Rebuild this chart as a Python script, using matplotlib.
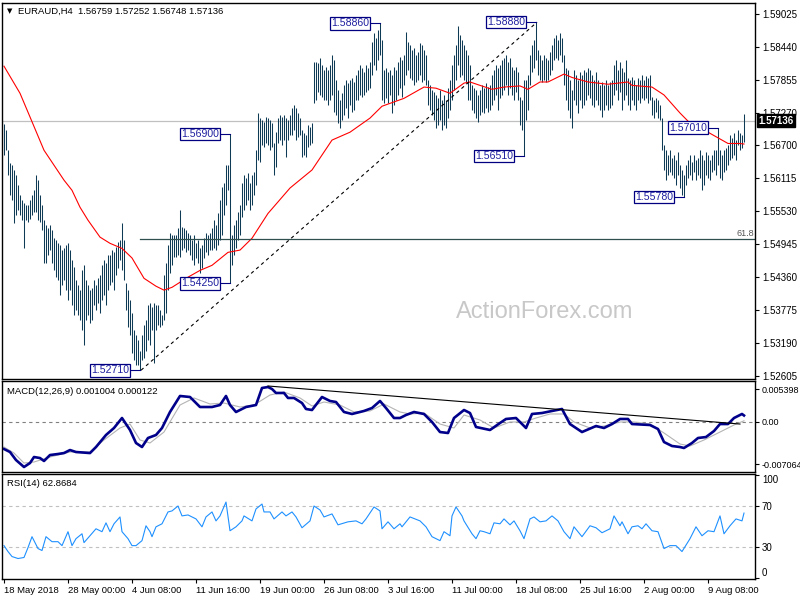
import numpy as np
import matplotlib.pyplot as plt
from matplotlib.transforms import blended_transform_factory

plt.rcParams['font.family'] = ['Liberation Sans', 'DejaVu Sans']

# H4 bars, high / low in pips above 1.5000 (one row = 10 bars)
high_pips = [
    707, 696, 661, 638, 634, 626, 617, 599, 581, 572,
    567, 564, 564, 572, 581, 590, 617, 608, 581, 564,
    537, 528, 523, 528, 519, 505, 502, 496, 493, 484,
    487, 493, 496, 484, 466, 454, 431, 422, 413, 448,
    457, 431, 422, 413, 416, 431, 422, 434, 439, 457,
    466, 462, 475, 475, 484, 480, 489, 498, 502, 532,
    502, 425, 413, 395, 372, 342, 333, 324, 306, 333,
    351, 360, 386, 391, 383, 391, 386, 386, 377, 369,
    439, 461, 493, 514, 510, 510, 510, 523, 555, 525,
    523, 519, 514, 510, 502, 510, 496, 502, 487, 493,
    505, 514, 510, 514, 523, 537, 528, 549, 572, 595,
    603, 634, 634, 690, 510, 528, 537, 551, 564, 603,
    617, 611, 620, 603, 617, 622, 661, 727, 718, 714,
    711, 720, 718, 714, 709, 673, 693, 718, 723, 720,
    723, 718, 714, 723, 736, 741, 736, 727, 718, 696,
    691, 688, 705, 702, 709, 817, 817, 815, 824, 812,
    803, 808, 803, 812, 829, 821, 785, 767, 750, 762,
    776, 785, 780, 785, 789, 782, 794, 803, 812, 806,
    799, 812, 806, 817, 853, 869, 860, 874, 886, 856,
    803, 806, 799, 803, 794, 808, 803, 817, 826, 821,
    829, 870, 853, 847, 838, 842, 829, 835, 851, 847,
    838, 829, 785, 776, 767, 764, 759, 753, 767, 750,
    759, 750, 771, 785, 812, 829, 847, 881, 865, 856,
    847, 838, 829, 812, 776, 771, 767, 759, 767, 776,
    771, 780, 773, 776, 794, 803, 812, 806, 812, 821,
    824, 829, 817, 824, 808, 803, 808, 799, 755, 750,
    785, 785, 794, 829, 847, 856, 888, 838, 829, 821,
    829, 824, 821, 835, 847, 860, 865, 856, 869, 860,
    829, 806, 803, 785, 767, 803, 794, 785, 799, 794,
    803, 799, 806, 803, 794, 785, 799, 785, 776, 782,
    776, 785, 776, 782, 785, 812, 821, 803, 817, 806,
    799, 821, 789, 785, 790, 785, 776, 789, 785, 794,
    785, 792, 789, 794, 755, 750, 753, 750, 741, 718,
    670, 661, 652, 661, 647, 652, 643, 657, 634, 626,
    617, 634, 643, 652, 640, 652, 643, 647, 661, 652,
    643, 657, 652, 643, 652, 661, 661, 701, 661, 652,
    661, 665, 670, 688, 683, 691, 679, 696, 691, 688, 725,
]
low_pips = [
    652, 661, 617, 581, 572, 532, 546, 555, 546, 537,
    487, 537, 533, 540, 546, 551, 551, 537, 533, 519,
    462, 462, 475, 484, 462, 448, 436, 431, 404, 422,
    431, 413, 395, 413, 386, 369, 377, 369, 360, 342,
    315, 360, 369, 354, 360, 386, 377, 390, 372, 395,
    404, 386, 413, 422, 427, 413, 439, 452, 466, 448,
    431, 377, 347, 333, 301, 289, 280, 280, 271, 289,
    293, 306, 324, 315, 342, 283, 342, 351, 347, 351,
    360, 372, 413, 443, 457, 471, 471, 475, 471, 484,
    487, 480, 484, 475, 466, 457, 470, 462, 443, 452,
    470, 480, 475, 484, 484, 487, 484, 493, 502, 510,
    546, 564, 590, 425, 457, 475, 487, 502, 510, 542,
    555, 564, 572, 555, 564, 581, 599, 643, 640, 670,
    666, 673, 670, 661, 666, 617, 631, 673, 679, 670,
    679, 649, 679, 688, 688, 696, 679, 684, 688, 649,
    652, 649, 666, 670, 673, 744, 750, 764, 759, 755,
    750, 750, 741, 750, 759, 728, 723, 709, 700, 714,
    723, 736, 718, 741, 728, 732, 750, 750, 759, 755,
    759, 764, 767, 771, 794, 812, 803, 821, 829, 750,
    744, 753, 744, 759, 727, 741, 750, 759, 771, 755,
    776, 794, 803, 789, 785, 776, 782, 785, 794, 782,
    785, 776, 741, 732, 723, 714, 700, 705, 714, 696,
    705, 700, 718, 732, 750, 767, 785, 812, 790, 794,
    785, 780, 750, 750, 732, 727, 718, 711, 723, 728,
    727, 736, 728, 732, 741, 750, 759, 732, 753, 759,
    767, 776, 759, 771, 759, 750, 764, 750, 705, 696,
    651, 714, 732, 776, 799, 806, 821, 794, 785, 782,
    785, 782, 785, 794, 803, 821, 824, 821, 829, 817,
    776, 750, 732, 718, 700, 750, 741, 727, 750, 736,
    741, 750, 759, 753, 741, 737, 750, 741, 732, 720,
    732, 741, 732, 736, 741, 759, 767, 750, 764, 732,
    750, 759, 741, 732, 750, 741, 732, 750, 744, 753,
    750, 753, 744, 750, 723, 718, 728, 718, 714, 661,
    626, 608, 617, 622, 617, 611, 599, 617, 594, 581,
    578, 599, 611, 617, 608, 622, 608, 617, 611, 590,
    599, 617, 611, 608, 622, 626, 617, 634, 611, 608,
    622, 626, 634, 643, 647, 652, 643, 670, 661, 665, 675,
]

# moving average (red), sampled
ma_bar = [0, 8, 13, 20, 30, 34, 38, 42, 48, 53, 59, 64, 70, 76, 80, 84, 92, 98, 104, 112,
          118, 124, 132, 143, 154, 164, 173, 183, 189, 200, 210, 216, 223, 230, 233, 238,
          244, 250, 258, 262, 268, 272, 280, 284, 292, 302, 312, 314, 324, 330, 338, 343,
          352, 362, 368, 370]
ma_pips = [810, 762, 720, 661, 608, 590, 560, 537, 507, 496, 487, 470, 434, 420, 413, 418,
           436, 448, 457, 480, 484, 505, 549, 594, 626, 679, 693, 718, 739, 753, 773, 771,
           762, 780, 782, 776, 769, 773, 775, 769, 782, 782, 796, 790, 782, 778, 782, 776,
           773, 759, 727, 709, 693, 673, 673, 672]

# MACD (x 1e-4)
macd_bar = [0, 3, 6, 10, 13, 15, 18, 20, 23, 27, 30, 33, 36, 43, 46, 51, 55, 59, 63, 66,
            69, 72, 76, 79, 83, 88, 93, 98, 104, 108, 111, 113, 116, 121, 126, 129, 132, 134,
            136, 140, 142, 145, 149, 151, 154, 159, 163, 166, 170, 174, 180, 184, 188, 191,
            195, 198, 201, 205, 210, 214, 218, 222, 225, 230, 233, 236, 243, 248, 251, 256,
            261, 264, 269, 274, 279, 283, 289, 296, 300, 304, 308, 312, 314, 323, 327, 330,
            334, 338, 340, 344, 347, 351, 355, 358, 362, 365, 369, 370]
macd_main = [-45.7, -50.7, -64.0, -75.6, -69.0, -59.0, -60.7, -65.6, -55.7, -54.0, -52.4,
             -47.4, -50.7, -52.4, -42.4, -22.4, -10.8, 5.8, -14.1, -35.7, -42.4, -27.4,
             -22.4, -10.8, 15.8, 42.4, 40.7, 24.1, 24.1, 27.4, 42.4, 27.4, 15.8, 24.1, 27.4,
             55.7, 57.3, 54.0, 47.4, 47.4, 39.1, 39.1, 30.7, 20.8, 19.1, 40.7, 34.1, 32.4,
             15.8, 12.5, 17.5, 22.4, 34.1, 22.4, 5.8, 5.8, 10.8, 15.8, 12.5, -0.8, -17.5,
             -19.1, 5.8, 19.1, 14.1, -9.1, -14.1, -2.5, 4.2, 5.8, -10.8, 12.5, 14.1, 17.5,
             20.8, -4.2, -17.5, -7.5, -10.8, -4.2, 4.2, 4.2, -4.2, -5.8, -12.5, -34.1, -40.7,
             -42.4, -44.0, -35.7, -27.4, -25.8, -15.8, -4.2, -4.2, 5.8, 12.5, 10.0]
signal_bar = [0, 5, 10, 15, 23, 33, 43, 50, 58, 63, 68, 73, 80, 88, 95, 103, 110, 118, 125,
              133, 140, 148, 154, 160, 168, 175, 183, 190, 198, 203, 210, 218, 225, 230, 238,
              245, 253, 260, 266, 273, 280, 285, 293, 300, 308, 315, 323, 330, 338, 343, 350,
              358, 365, 370]
signal_vals = [-42.4, -52.4, -69.0, -67.3, -59.0, -50.7, -50.7, -30.7, -10.8, -4.2, -30.7,
               -35.7, -17.5, 27.4, 39.1, 29.1, 30.7, 24.1, 27.4, 44.0, 49.0, 39.1, 25.8, 32.4,
               27.4, 15.8, 17.5, 29.1, 15.8, 12.5, 14.1, -4.2, -10.8, 10.8, 2.5, -10.8, -0.8,
               -0.8, 5.8, 12.5, 12.5, -0.8, -10.8, -7.5, -0.8, -0.8, -4.2, -19.1, -37.4,
               -40.7, -30.7, -17.5, -5.8, 1.2]

# RSI(14)
rsi_bar = [0, 2, 4, 7, 10, 12, 14, 17, 19, 21, 24, 27, 29, 32, 34, 36, 39, 40, 43, 46,
           49, 51, 53, 55, 58, 59, 62, 64, 66, 69, 71, 73, 74, 76, 79, 82, 84, 87, 89, 92,
           96, 99, 101, 104, 106, 108, 111, 113, 116, 119, 120, 124, 126, 129, 130, 133, 135,
           139, 141, 144, 146, 149, 153, 155, 158, 160, 164, 167, 172, 176, 179, 181, 185,
           188, 189, 192, 195, 198, 199, 203, 208, 211, 214, 218, 220, 223, 224, 226, 229,
           230, 234, 236, 238, 240, 243, 245, 248, 250, 253, 255, 258, 260, 263, 265, 268,
           271, 274, 277, 280, 283, 285, 289, 293, 296, 299, 303, 305, 308, 309, 312, 314,
           317, 319, 321, 324, 327, 330, 333, 336, 339, 343, 346, 349, 352, 355, 358, 360,
           363, 366, 369, 370]
rsi_vals = [31.6, 25.9, 21.1, 19.2, 20.2, 29.7, 40.2, 28.8, 26.9, 40.2,
            35.4, 35.4, 31.6, 45.0, 31.6, 38.3, 43.0, 34.5, 41.1, 47.8,
            45.0, 53.5, 45.0, 52.6, 59.2, 45.0, 38.3, 31.6, 31.6, 36.4,
            50.7, 45.0, 40.2, 49.7, 52.6, 64.0, 65.0, 69.7, 60.2, 61.1,
            57.3, 49.7, 59.2, 64.0, 55.4, 60.2, 73.5, 45.9, 49.7, 55.4,
            60.2, 55.4, 66.9, 71.6, 64.0, 64.0, 57.3, 64.0, 60.2, 64.0,
            59.2, 48.8, 55.4, 69.7, 65.9, 59.2, 62.1, 51.6, 54.5, 55.4,
            52.6, 57.3, 68.8, 65.0, 47.8, 54.5, 47.8, 52.6, 49.7, 59.2,
            55.4, 49.7, 40.2, 36.4, 45.0, 41.1, 60.2, 68.8, 60.2, 55.4,
            43.0, 38.3, 45.9, 45.0, 43.0, 53.5, 52.6, 57.3, 51.6, 55.4,
            45.9, 38.3, 57.3, 59.2, 54.5, 55.4, 60.2, 55.4, 45.0, 38.3,
            49.7, 40.2, 50.7, 48.8, 44.0, 47.8, 60.2, 50.7, 54.5, 43.0,
            49.7, 50.7, 47.8, 52.6, 45.9, 45.0, 28.8, 31.6, 31.6, 25.9,
            38.3, 49.7, 41.1, 45.9, 45.0, 60.2, 43.0, 50.7, 57.3, 55.4, 62.9]

price_ticks = ["1.59025", "1.58440", "1.57855", "1.57270", "1.56700", "1.56115",
               "1.55530", "1.54945", "1.54360", "1.53775", "1.53190", "1.52605"]
macd_ticks = ["0.005398", "0.00", "-0.007064"]
rsi_ticks = ["100", "70", "30", "0"]
date_bars = [0, 32, 64, 96, 128, 160, 192, 224, 256, 288, 320, 352]
date_labels = ["18 May 2018", "28 May 00:00", "4 Jun 08:00", "11 Jun 16:00", "19 Jun 00:00",
               "26 Jun 08:00", "3 Jul 16:00", "11 Jul 00:00", "18 Jul 08:00", "25 Jul 16:00",
               "2 Aug 00:00", "9 Aug 08:00"]

swing_bars = [188, 266, 113, 260, 113, 68, 357, 340]
swing_labels = ["1.58860", "1.58880", "1.56900", "1.56510", "1.54250", "1.52710",
                "1.57010", "1.55780"]
last_price = 1.57136
fib_level = 1.5503

highs = 1.5 + np.array(high_pips) / 10000
lows = 1.5 + np.array(low_pips) / 10000
bars = np.arange(len(highs))
ma = 1.5 + np.array(ma_pips) / 10000

fig = plt.figure(figsize=(8, 6), dpi=100)
W = 753 / 800
ax1 = fig.add_axes([0.0025, 1 - 379 / 600, W, 376 / 600])
ax2 = fig.add_axes([0.0025, 1 - 472 / 600, W, 91 / 600])
ax3 = fig.add_axes([0.0025, 1 - 579 / 600, W, 105 / 600])

for ax in (ax1, ax2, ax3):
    ax.set_xlim(-1, 375.5)
    ax.yaxis.tick_right()
    ax.tick_params(axis='y', direction='out', length=3, width=0.8, pad=2, labelsize=7)
    for s in ax.spines.values():
        s.set_color('black')
        s.set_linewidth(1.0)

# --- price panel ---
ax1.vlines(bars, lows, highs, color='#0e3a56', lw=0.75)
ax1.plot(ma_bar, ma, color='red', lw=0.8)
ax1.axhline(last_price, color='#c0c0c0', lw=0.9, zorder=0)
ax1.plot([68, 375.5], [fib_level, fib_level], color='#2f4f4f', lw=0.9)
ax1.text(375, fib_level + 0.0003, '61.8', ha='right', va='bottom', fontsize=6.5, color='#555555')
ax1.plot([68.5, 266.5], [1.5271, 1.5888], color='black', lw=0.8, ls=(0, (3, 3)))

for b, lab in zip(swing_bars, swing_labels):
    p = float(lab)
    ax1.plot([b - 5, b], [p, p], color='#000080', lw=0.8)
    ax1.text(b - 5.4, p, lab, ha='right', va='center', fontsize=7.6, color='#2020a0',
             bbox=dict(boxstyle='square,pad=0.12', fc='white', ec='#000080', lw=0.9))

ax1.set_ylim(1.52555, 1.59220)
ax1.set_yticks([float(t) for t in price_ticks])
ax1.set_yticklabels(price_ticks)
ax1.set_xticks([])
tr = blended_transform_factory(ax1.transAxes, ax1.transData)
ax1.text(1.004, last_price, f'{last_price:.5f}', transform=tr, ha='left', va='center',
         fontsize=7, color='white', fontweight='bold', clip_on=False, zorder=10,
         bbox=dict(boxstyle='square,pad=0.15', fc='black', ec='black'))

# --- MACD panel ---
ax2.axhline(0, color='#808080', lw=0.8, ls=(0, (3, 3)))
ax2.plot(signal_bar, np.array(signal_vals) * 1e-4, color='#b4b4b4', lw=0.8)
ax2.plot(macd_bar, np.array(macd_main) * 1e-4, color='#00008b', lw=1.9)
ax2.plot([132, 368], [0.0059, -0.00042], color='black', lw=0.8)
ax2.set_ylim(-0.00839, 0.00673)
ax2.set_yticks([0.005398, 0.0, -0.007064])
ax2.set_yticklabels(macd_ticks)
ax2.tick_params(axis='y', labelsize=6.5)
ax2.set_xticks([])

# --- RSI panel ---
ax3.axhline(70, color='#c0c0c0', lw=0.8, ls=(0, (3, 3)))
ax3.axhline(30, color='#c0c0c0', lw=0.8, ls=(0, (3, 3)))
ax3.plot(rsi_bar, rsi_vals, color='#1e90ff', lw=0.8)
ax3.set_ylim(-0.5, 100.5)
ax3.set_yticks([100, 70, 30, 0])
ax3.set_yticklabels(rsi_ticks)
lbls = ax3.get_yticklabels()
lbls[0].set_va('top')
lbls[3].set_va('bottom')
ax3.set_xticks(date_bars)
ax3.set_xticklabels(date_labels, ha='left')
ax3.tick_params(axis='x', direction='out', length=3, width=0.8, pad=2, labelsize=6.8)

# --- texts ---
fig.text(10 / 800, 1 - 11 / 600, '\u25bc', fontsize=5, ha='center', va='center',
         family='DejaVu Sans')
fig.text(18 / 800, 1 - 11 / 600, 'EURAUD,H4  1.56759 1.57252 1.56748 1.57136',
         fontsize=6.8, va='center')
fig.text(7 / 800, 1 - 391 / 600, 'MACD(12,26,9) 0.001004 0.000122', fontsize=6.8, va='center')
fig.text(7 / 800, 1 - 484 / 600, 'RSI(14) 62.8684', fontsize=6.8, va='center')
fig.text(545 / 800, 1 - 312 / 600, 'ActionForex.com', fontsize=17, color='#c8c8c8',
         ha='center', va='center')

fig.savefig('out.png', dpi=100)
